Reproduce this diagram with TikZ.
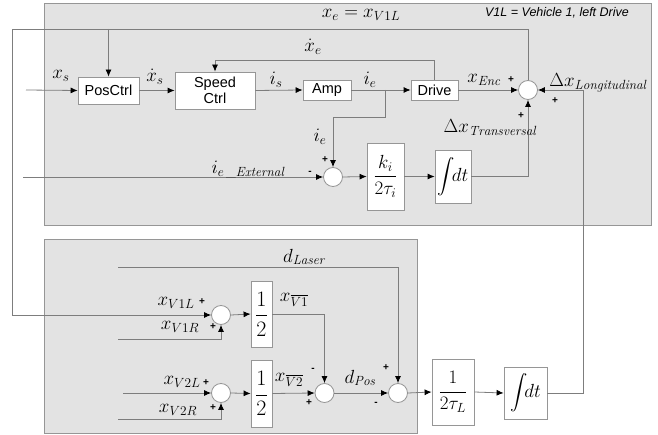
\RequirePackage{fix-cm}
\documentclass[tikz,border=0pt]{standalone}
\usepackage{amsmath}
\usepackage{fontspec}
\setsansfont{Liberation Sans}
\usetikzlibrary{arrows.meta}
\definecolor{panel}{RGB}{227,227,227}
\definecolor{edge}{RGB}{150,150,150}
\definecolor{wire}{RGB}{125,125,125}
\begin{document}
\begin{tikzpicture}[x=1pt,y=-1pt,
 panelbox/.style={draw=edge,fill=panel,line width=0.8pt},
 blk/.style={draw=edge,fill=white,line width=0.8pt,inner sep=0pt,align=center,font=\sffamily\fontsize{14.5}{16}\selectfont},
 mblk/.style={draw=edge,fill=white,line width=0.8pt,inner sep=0pt,font=\fontsize{19}{21}\selectfont},
 sumc/.style={circle,draw=edge,fill=white,line width=0.8pt,minimum size=19pt,inner sep=0pt},
 wireline/.style={draw=wire,line width=0.8pt},
 arr/.style={wireline,-{Latex[length=7pt,width=6pt,black]}},
 lbl/.style={font=\fontsize{19}{21}\selectfont,inner sep=0pt},
 sgn/.style={font=\sffamily\bfseries\fontsize{10}{11}\selectfont,inner sep=0pt},
]
\useasboundingbox (0,0) rectangle (658,435);
% panels
\path[panelbox] (44,3) rectangle (651,225);
\path[panelbox] (44,239) rectangle (417,433);

% blocks (top)
\node[blk,minimum width=61pt,minimum height=27pt] (pos) at (108.5,90.5) {PosCtrl};
\node[blk,minimum width=80pt,minimum height=37pt] (spd) at (215,90.5) {Speed\\Ctrl};
\node[blk,minimum width=48pt,minimum height=20pt] (amp) at (327,90) {Amp};
\node[blk,minimum width=47pt,minimum height=20pt] (drv) at (434.5,90) {Drive};
\node[sumc] (sumT) at (528,90) {};
\node[sumc] (sumI) at (333,177) {};
\node[mblk,minimum width=37pt,minimum height=67pt] (ki) at (385.5,176.5) {$\dfrac{k_i}{2\tau_i}$};
\node[mblk,minimum width=36pt,minimum height=53pt] (int1) at (453,176.5) {$\displaystyle\int\!\! dt$};

% blocks (bottom)
\node[sumc] (sumV1) at (221,315) {};
\node[sumc] (sumV2) at (221,393) {};
\node[sumc] (sumM) at (324.5,393) {};
\node[sumc] (sumD) at (398,393) {};
\node[mblk,minimum width=21pt,minimum height=66pt,font=\fontsize{22}{24}\selectfont] (half1) at (261.5,314) {$\dfrac{1}{2}$};
\node[mblk,minimum width=21pt,minimum height=67pt,font=\fontsize{22}{24}\selectfont] (half2) at (261.5,393.5) {$\dfrac{1}{2}$};
\node[mblk,minimum width=42pt,minimum height=66pt] (tauL) at (453,392) {$\dfrac{1}{2\tau_L}$};
\node[mblk,minimum width=43pt,minimum height=52pt] (int2) at (525.5,393) {$\displaystyle\int\!\! dt$};

% free ends and bends
\coordinate (inXs) at (26,90);
\coordinate (fbTop) at (528,29);
\coordinate (fbPos) at (108.5,29);
\coordinate (fbLeft) at (12,29);
\coordinate (xeTurn) at (215,60);
\coordinate (ieTap) at (385,90);
\coordinate (ieTurn) at (385,117);
\coordinate (inExt) at (23,177);
\coordinate (longTurn) at (583,90);
\coordinate (inLaser) at (118,267);
\coordinate (inV1R) at (118,339);
\coordinate (inV2L) at (123,393);
\coordinate (inV2R) at (118,419);

% connectors top
\draw[arr] (inXs) -- (pos.west);
\draw[arr] (pos.east) -- (spd.west);
\draw[arr] (spd.east) -- (amp.west);
\draw[arr] (amp.east) -- (drv.west);
\draw[arr] (drv.east) -- (sumT.west);
\draw[wireline] (sumT.north) -- (fbTop) -- (fbPos);
\draw[arr] (fbPos) -- (pos.north);
\draw[arr] (fbPos) -- (fbLeft) |- (sumV1.west);
\draw[arr] (drv.north) |- (xeTurn) -- (spd.north);
\draw[arr] (ieTap) -- (ieTurn) -| (sumI.north);
\draw[arr] (inExt) -- (sumI.west);
\draw[arr] (sumI.east) -- (ki.west);
\draw[arr] (ki.east) -- (int1.west);
\draw[arr] (int1.east) -| (sumT.south);
\draw[arr] (int2.east) -| (longTurn) -- (sumT.east);

% connectors bottom
\draw[arr] (inLaser) -| (sumD.north);
\draw[arr] (sumV1.east) -- (half1.west);
\draw[arr] (inV1R) -| (sumV1.south);
\draw[arr] (half1.east) -| (sumM.north);
\draw[arr] (inV2L) -- (sumV2.west);
\draw[arr] (inV2R) -| (sumV2.south);
\draw[arr] (sumV2.east) -- (half2.west);
\draw[arr] (half2.east) -- (sumM.west);
\draw[arr] (sumM.east) -- (sumD.west);
\draw[arr] (sumD.east) -- (tauL.west);
\draw[arr] (tauL.east) -- (int2.west);

% labels
\node[lbl] (lXs) at (61,76) {$x_s$};
\node[lbl] (lXsd) at (155,77) {$\dot{x}_s$};
\node[lbl] (lIs) at (276,80) {$i_s$};
\node[lbl] (lIe) at (370,80) {$i_e$};
\node[lbl] (lEnc) at (484,80) {$x_{\mathit{Enc}}$};
\node[lbl] (lXe) at (361,15) {$x_e = x_{V1L}$};
\node[lbl] (lXed) at (313,47) {$\dot{x}_e$};
\node[font=\sffamily\itshape\fontsize{12.5}{14}\selectfont,inner sep=0pt] (note) at (557,13) {V1L = Vehicle 1, left Drive};
\node[lbl] (lLong) at (598,83) {$\Delta x_{\mathit{Longitudinal}}$};
\node[lbl] (lTrans) at (490,128) {$\Delta x_{\mathit{Transversal}}$};
\node[lbl] (lIe2) at (320,137) {$i_e$};
\node[lbl] (lExt) at (248,170) {$i_{e\,\_\mathit{External}}$};
\node[lbl] (lLaser) at (304,257) {$d_{\mathit{Laser}}$};
\node[lbl] (lV1L) at (176,303) {$x_{V1L}$};
\node[lbl] (lV1R) at (180,327) {$x_{V1R}$};
\node[lbl] (lV1b) at (294,300) {$x_{\overline{V1}}$};
\node[lbl] (lV2L) at (182,382) {$x_{V2L}$};
\node[lbl] (lV2R) at (178,410) {$x_{V2R}$};
\node[lbl] (lV2b) at (289,380) {$x_{\overline{V2}}$};
\node[lbl] (lPos) at (360,378) {$d_{\mathit{Pos}}$};

% signs
\node[sgn] (s1) at (511,80) {+};
\node[sgn] (s2) at (555,101) {+};
\node[sgn] (s3) at (521,116) {+};
\node[sgn] (s4) at (325,160) {+};
\node[sgn] (s5) at (310,173) {-};
\node[sgn] (s6) at (202,302) {+};
\node[sgn] (s7) at (213,327) {+};
\node[sgn] (s8) at (206,383) {+};
\node[sgn] (s9) at (213,408) {+};
\node[sgn] (s10) at (313,370) {-};
\node[sgn] (s11) at (309,403) {+};
\node[sgn] (s12) at (386,368) {+};
\node[sgn] (s13) at (376,404) {-};
\end{tikzpicture}
\end{document}
